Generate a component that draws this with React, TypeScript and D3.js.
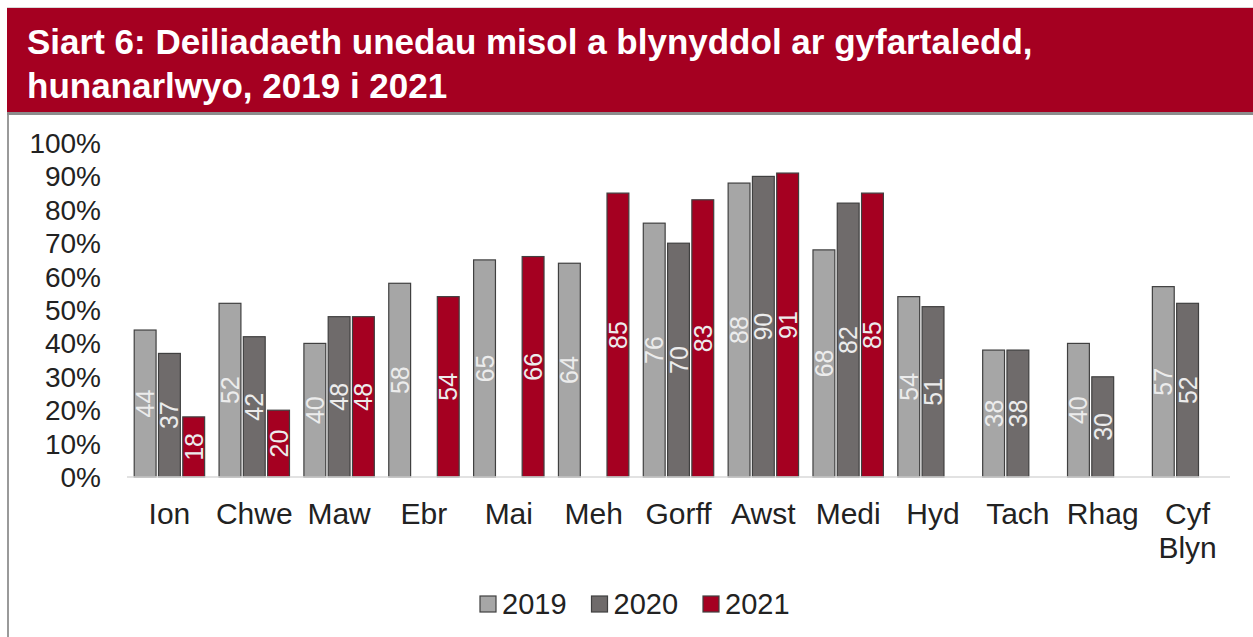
import React from "react";
import * as d3 from "d3";

const months = ["Ion", "Chwe", "Maw", "Ebr", "Mai", "Meh", "Gorff", "Awst", "Medi", "Hyd", "Tach", "Rhag", "Cyf Blyn"];
const years = ["2019", "2020", "2021"];
const v2019 = [44, 52, 40, 58, 65, 64, 76, 88, 68, 54, 38, 40, 57];
const v2020 = [37, 42, 48, null, null, null, 70, 90, 82, 51, 38, 30, 52];
const v2021 = [18, 20, 48, 54, 66, 85, 83, 91, 85, null, null, null, null];
const yTicks = [0, 10, 20, 30, 40, 50, 60, 70, 80, 90, 100];

const colors = ["#a6a6a6", "#6f6b6b", "#a50021"];
const W = 1253;
const H = 637;

function App() {
  const series = [v2019, v2020, v2021];
  const x = d3.scaleBand<string>().domain(months).range([127, 1230]).paddingInner(0.17).paddingOuter(0.085);
  const xi = d3.scaleBand<string>().domain(years).range([0, x.bandwidth()]).paddingInner(0.1);
  const y = d3.scaleLinear().domain([0, 100]).range([477, 143]);
  const font = "'Liberation Sans', Arial, sans-serif";

  return (
    <svg width={W} height={H} style={{ position: "fixed", left: 0, top: 0, background: "#fff" }} fontFamily={font}>
      {/* frame + title band */}
      <rect x={7} y={115} width={2} height={H - 115} fill="#9a9a9a" />
      <rect x={7} y={7} width={W - 7} height={1} fill="#d9d9d9" />
      <rect x={7} y={8} width={W - 7} height={104} fill="#a50021" />
      <rect x={7} y={112} width={W - 7} height={3} fill="#8c8c8c" />
      <text x={27} y={54} fill="#fff" fontSize={35} fontWeight="bold">
        Siart 6: Deiliadaeth unedau misol a blynyddol ar gyfartaledd,
      </text>
      <text x={27} y={98} fill="#fff" fontSize={35} fontWeight="bold">
        hunanarlwyo, 2019 i 2021
      </text>

      {/* y axis labels */}
      {yTicks.map((t) => (
        <text key={t} x={101} y={y(t)} dy="0.36em" textAnchor="end" fontSize={28} fill="#222">
          {t}%
        </text>
      ))}

      {/* bars */}
      {series.map((vals, si) =>
        vals.map((v, i) => {
          if (v == null) return null;
          const bx = (x(months[i]) ?? 0) + (xi(years[si]) ?? 0);
          const bw = xi.bandwidth();
          const top = y(v);
          const cy = (top + y(0)) / 2;
          const cx = bx + bw / 2;
          return (
            <g key={`${si}-${i}`}>
              <rect x={bx} y={top} width={bw} height={y(0) - top} fill={colors[si]} stroke="#404040" strokeWidth={1.2} />
              <text
                transform={`translate(${cx},${cy}) rotate(-90)`}
                textAnchor="middle"
                dy="0.36em"
                fontSize={25}
                fill="#ececec"
              >
                {v}
              </text>
            </g>
          );
        })
      )}

      {/* baseline */}
      <line x1={127} x2={1230} y1={y(0)} y2={y(0)} stroke="#d9d9d9" strokeWidth={1.5} />

      {/* x labels */}
      {months.map((m) => {
        const cx = (x(m) ?? 0) + x.bandwidth() / 2;
        const parts = m.split(" ");
        return (
          <text key={m} x={cx} y={524} textAnchor="middle" fontSize={30} fill="#222">
            {parts.map((p, k) => (
              <tspan key={k} x={cx} dy={k === 0 ? 0 : 34}>
                {p}
              </tspan>
            ))}
          </text>
        );
      })}

      {/* legend */}
      {years.map((yr, i) => {
        const lx = 480 + i * 111.5;
        return (
          <g key={yr}>
            <rect x={lx} y={596} width={16} height={16} fill={colors[i]} stroke="#404040" strokeWidth={1.2} />
            <text x={lx + 22} y={614} fontSize={29} fill="#222">
              {yr}
            </text>
          </g>
        );
      })}
    </svg>
  );
}

export default App;
